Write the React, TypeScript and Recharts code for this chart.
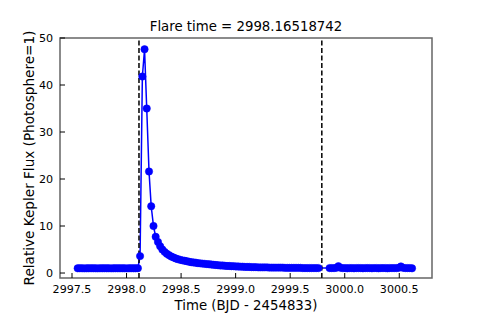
import { LineChart, Line, XAxis, YAxis, ReferenceLine, ReferenceArea } from "recharts";

// BJD - 2454833, Kepler long cadence
const times = [
  2997.552, 2997.572, 2997.593, 2997.613, 2997.634, 2997.654, 2997.675, 2997.695, 2997.716, 2997.736,
  2997.756, 2997.777, 2997.797, 2997.818, 2997.838, 2997.859, 2997.879, 2997.899, 2997.920, 2997.940,
  2997.961, 2997.981, 2998.002, 2998.022, 2998.042, 2998.063, 2998.083, 2998.104, 2998.124, 2998.145,
  2998.165, 2998.185, 2998.206, 2998.226, 2998.247, 2998.267, 2998.288, 2998.308, 2998.328, 2998.349,
  2998.369, 2998.390, 2998.410, 2998.431, 2998.451, 2998.471, 2998.492, 2998.512, 2998.533, 2998.553,
  2998.574, 2998.594, 2998.614, 2998.635, 2998.655, 2998.676, 2998.696, 2998.717, 2998.737, 2998.757,
  2998.778, 2998.798, 2998.819, 2998.839, 2998.860, 2998.880, 2998.900, 2998.921, 2998.941, 2998.962,
  2998.982, 2999.003, 2999.023, 2999.043, 2999.064, 2999.084, 2999.105, 2999.125, 2999.146, 2999.166,
  2999.186, 2999.207, 2999.227, 2999.248, 2999.268, 2999.289, 2999.309, 2999.330, 2999.350, 2999.370,
  2999.391, 2999.411, 2999.432, 2999.452, 2999.473, 2999.493, 2999.513, 2999.534, 2999.554, 2999.575,
  2999.595, 2999.616, 2999.636, 2999.656, 2999.677, 2999.697, 2999.718, 2999.738, 2999.759,
  2999.861, 2999.881, 2999.902, 2999.922, 2999.942, 2999.963, 2999.983, 3000.004, 3000.024, 3000.045,
  3000.065, 3000.085, 3000.106, 3000.126, 3000.147, 3000.167, 3000.188, 3000.208, 3000.228, 3000.249,
  3000.269, 3000.290, 3000.310, 3000.331, 3000.351, 3000.372, 3000.392, 3000.412, 3000.433, 3000.453,
  3000.474, 3000.494, 3000.515, 3000.535, 3000.555, 3000.576, 3000.596, 3000.617,
];

const flux = [
  1.0, 1.01, 1.0, 0.99, 1.0, 1.0, 1.01, 1.0, 1.0, 0.99,
  1.0, 1.0, 1.01, 1.0, 1.0, 0.99, 1.0, 1.01, 1.0, 1.0,
  1.0, 1.0, 0.99, 1.0, 1.01, 1.0, 1.0, 1.02, 3.6, 41.8,
  47.6, 35.0, 21.6, 14.2, 10.0, 7.7, 6.6, 5.7, 5.0, 4.5,
  4.1, 3.8, 3.5, 3.3, 3.1, 2.95, 2.8, 2.7, 2.6, 2.5,
  2.4, 2.3, 2.25, 2.2, 2.1, 2.05, 2.0, 1.95, 1.9, 1.85,
  1.8, 1.75, 1.7, 1.65, 1.6, 1.6, 1.55, 1.5, 1.5, 1.45,
  1.45, 1.4, 1.4, 1.35, 1.35, 1.3, 1.3, 1.3, 1.25, 1.25,
  1.25, 1.2, 1.2, 1.2, 1.2, 1.2, 1.15, 1.15, 1.15, 1.15,
  1.15, 1.15, 1.15, 1.1, 1.1, 1.1, 1.1, 1.1, 1.1, 1.1,
  1.1, 1.05, 1.05, 1.05, 1.05, 1.05, 1.05, 1.05, 1.05,
  1.05, 1.05, 1.05, 1.1, 1.45, 1.1, 1.05, 1.05, 1.0, 1.05,
  1.05, 1.0, 1.05, 1.05, 1.05, 1.0, 1.05, 1.05, 1.05, 1.0,
  1.05, 1.05, 1.0, 1.05, 1.05, 1.05, 1.0, 1.05, 1.05, 1.05,
  1.05, 1.1, 1.4, 1.1, 1.05, 1.05, 1.05, 1.0,
];

const xTicks = [2997.5, 2998.0, 2998.5, 2999.0, 2999.5, 3000.0, 3000.5];
const yTicks = [0, 10, 20, 30, 40, 50];
const flareStart = 2998.114;
const flareEnd = 2999.79;
const xDomain = [2997.39, 3000.8];
const yDomain = [-1.06, 50];

const title = "Flare time = 2998.16518742";
const xLabel = "Time (BJD - 2454833)";
const yLabel = "Relative Kepler Flux (Photosphere=1)";

const data = times.map((t, i) => ({ t, flux: flux[i] }));

const FONT = "'DejaVu Sans', sans-serif";

const XTick = (props: any) => {
  const { x, y, payload } = props;
  return (
    <g>
      <line x1={x} x2={x} y1={y} y2={y - 5} stroke="#000" strokeWidth={1} />
      <text x={x} y={y + 15} textAnchor="middle" fontSize={11.1} fontFamily={FONT} fill="#000">
        {payload.value.toFixed(1)}
      </text>
    </g>
  );
};

const YTick = (props: any) => {
  const { x, y, payload } = props;
  return (
    <g>
      <line x1={x} x2={x + 5} y1={y} y2={y} stroke="#000" strokeWidth={1} />
      <text x={x - 7} y={y + 4} textAnchor="end" fontSize={11.1} fontFamily={FONT} fill="#000">
        {payload.value}
      </text>
    </g>
  );
};

const labelStyle = {
  position: "absolute" as const,
  fontFamily: FONT,
  fontSize: 13.3,
  color: "#000",
  whiteSpace: "nowrap" as const,
  lineHeight: 1,
};

export default function App() {
  return (
    <div style={{ position: "absolute", left: 0, top: 0, width: 480, height: 320, background: "#fff" }}>
      <LineChart
        width={480}
        height={320}
        data={data}
        margin={{ top: 38, right: 48, left: 0, bottom: 0 }}
      >
        <XAxis
          dataKey="t"
          type="number"
          domain={xDomain}
          ticks={xTicks}
          tick={<XTick />}
          tickSize={0}
          tickMargin={0}
          tickLine={false}
          axisLine={false}
          height={42}
          allowDataOverflow
        />
        <YAxis
          type="number"
          domain={yDomain}
          ticks={yTicks}
          tick={<YTick />}
          tickSize={0}
          tickMargin={0}
          tickLine={false}
          axisLine={false}
          width={60}
          allowDataOverflow
        />
        <ReferenceArea
          x1={xDomain[0]}
          x2={xDomain[1]}
          y1={yDomain[0]}
          y2={yDomain[1]}
          fill="none"
          stroke="#666"
          strokeWidth={1.5}
          ifOverflow="visible"
        />
        <Line
          dataKey="flux"
          stroke="#0000ff"
          strokeWidth={1.5}
          dot={{ r: 3.7, fill: "#0000ff", stroke: "#0000ff", strokeWidth: 0.5 }}
          activeDot={false}
          isAnimationActive={false}
        />
        <ReferenceLine x={flareStart} stroke="#000" strokeWidth={1.5} strokeDasharray="5 2.5" />
        <ReferenceLine x={flareEnd} stroke="#000" strokeWidth={1.5} strokeDasharray="5 2.5" />
      </LineChart>
      <div style={{ ...labelStyle, left: 246, top: 26.5, transform: "translate(-50%, -50%)" }}>{title}</div>
      <div style={{ ...labelStyle, left: 246, top: 306, transform: "translate(-50%, -50%)" }}>{xLabel}</div>
      <div style={{ ...labelStyle, left: 30, top: 158, fontSize: 13.6, transform: "translate(-50%, -50%) rotate(-90deg)" }}>{yLabel}</div>
    </div>
  );
}
